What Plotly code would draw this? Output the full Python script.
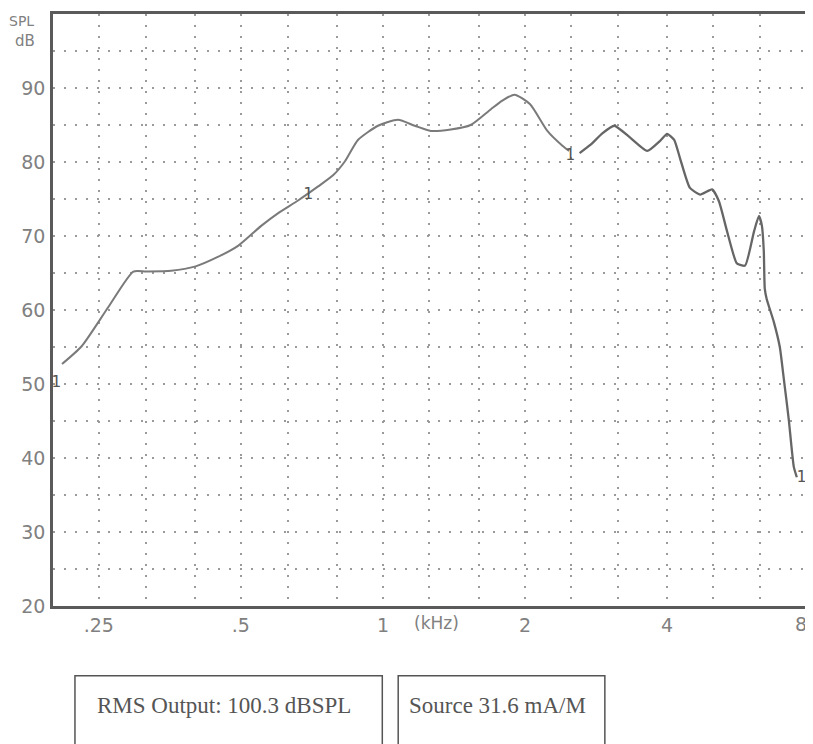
import math
import plotly.graph_objects as go

# Frequency response curve (kHz, dB SPL)
freq_a = [0.209, 0.230, 0.262, 0.296, 0.315, 0.356, 0.401, 0.448, 0.494, 0.553,
          0.600, 0.661, 0.729, 0.784, 0.831, 0.886, 0.976, 1.076, 1.168, 1.263,
          1.392, 1.534, 1.691, 1.79, 1.90, 2.05, 2.23, 2.40, 2.48]
spl_a = [52.7, 55.1, 60.4, 65.2, 65.2, 65.3, 65.9, 67.2, 68.7, 71.4,
         73.1, 74.8, 76.7, 78.2, 80.1, 83.0, 84.9, 85.7, 84.9, 84.2,
         84.4, 85.0, 87.1, 88.3, 89.1, 87.8, 84.2, 82.2, 81.5]
freq_b = [2.61, 2.75, 2.92, 3.09, 3.34, 3.63, 3.87, 4.0, 4.14, 4.26,
          4.47, 4.70, 4.98, 5.15, 5.36, 5.62, 5.85, 6.11, 6.26, 6.35,
          6.41, 6.44, 6.50, 6.73, 6.93, 7.07, 7.24, 7.42, 7.53]
spl_b = [81.2, 82.3, 83.9, 84.9, 83.3, 81.5, 82.9, 83.8, 83.0, 80.5,
         76.5, 75.6, 76.3, 74.7, 70.6, 66.3, 66.0, 70.6, 72.7, 71.4,
         67.9, 62.9, 61.5, 58.4, 55.0, 50.6, 45.2, 38.8, 37.4]

# curve-number labels
label_f = [0.203, 0.694, 2.49, 7.70]
label_db = [50.2, 75.5, 80.8, 37.3]

x_tickvals = [0.25, 0.5, 1, 2, 4, 8]
x_ticktext = [".25", ".5", "1", "2", "4", "8"]
x_grid = [0.25, 0.315, 0.4, 0.5, 0.63, 0.8, 1, 1.25, 1.6, 2, 2.5, 3.15, 4, 5, 6.3]
y_tickvals = [20, 30, 40, 50, 60, 70, 80, 90]
y_grid = [25, 35, 45, 55, 65, 75, 85, 95]

info_texts = ["RMS Output: 100.3 dBSPL", "Source 31.6 mA/M"]

grid_col = "#9a9a9a"
grid_dash = "2px,9px"
tick_font = dict(family="DejaVu Sans", size=19, color="#808080")

fig = go.Figure()
fig.add_trace(go.Scatter(x=freq_a, y=spl_a, mode="lines", line_shape="spline",
                         line=dict(color="#7a7a7a", width=2, smoothing=0.6),
                         showlegend=False))
fig.add_trace(go.Scatter(x=freq_b, y=spl_b, mode="lines", line_shape="spline",
                         line=dict(color="#666666", width=2.3, smoothing=0.5),
                         showlegend=False))
fig.add_trace(go.Scatter(x=label_f, y=label_db, mode="text", text=["1"] * 4,
                         textfont=dict(family="DejaVu Sans Mono", size=16, color="#555"),
                         showlegend=False))

# the last tick label sits on the right edge; it is drawn as an annotation below
fig.update_xaxes(type="log", range=[math.log10(0.2), math.log10(8.03)],
                 tickvals=x_tickvals[:-1], ticktext=x_ticktext[:-1],
                 showgrid=True, gridcolor=grid_col, griddash=grid_dash, gridwidth=1.5,
                 minor=dict(tickvals=x_grid, showgrid=True, gridcolor=grid_col,
                            griddash=grid_dash, gridwidth=1.5),
                 showline=True, linecolor="#5a5a5a", linewidth=2.5, mirror=True,
                 ticks="", tickfont=tick_font, automargin=False, zeroline=False)
fig.update_yaxes(range=[20, 100], tickvals=y_tickvals,
                 showgrid=True, gridcolor=grid_col, griddash=grid_dash, gridwidth=1.5,
                 minor=dict(tickvals=y_grid, showgrid=True, gridcolor=grid_col,
                            griddash=grid_dash, gridwidth=1.5),
                 showline=True, linecolor="#5a5a5a", linewidth=2.5, mirror=True,
                 ticks="", ticklabelstandoff=1, tickfont=tick_font,
                 automargin=False, zeroline=False)

annots = [
    dict(x=math.log10(x_tickvals[-1]), y=-0.009, xref="x", yref="paper",
         text=x_ticktext[-1], showarrow=False, xanchor="right", yanchor="top",
         font=tick_font),
    dict(x=math.log10(1.3), y=-0.009, xref="x", yref="paper", text="(kHz)", showarrow=False,
         yanchor="top", font=dict(family="DejaVu Sans", size=17, color="#808080")),
    dict(x=-0.022, y=0.988, xref="paper", yref="paper", text="SPL", showarrow=False,
         xanchor="right", yanchor="middle", font=dict(family="DejaVu Sans", size=14, color="#808080")),
    dict(x=-0.021, y=0.954, xref="paper", yref="paper", text="dB", showarrow=False,
         xanchor="right", yanchor="middle", font=dict(family="DejaVu Sans", size=15, color="#808080")),
]
# info boxes below plot
box_x = [(0.029, 0.435), (0.456, 0.729)]
text_pad = [0.026, 0.012]
for (x0, x1), pad, t in zip(box_x, text_pad, info_texts):
    fig.add_shape(type="rect", xref="paper", yref="paper", x0=x0, x1=x1,
                  y0=-0.26, y1=-0.118, line=dict(color="#555", width=1.5))
    annots.append(dict(x=x0 + pad, y=-0.143, xref="paper", yref="paper", text=t,
                       showarrow=False, xanchor="left", yanchor="top",
                       font=dict(family="Liberation Serif", size=23, color="#555")))

# page body has an 8px margin, so the figure is 8px smaller on each axis
fig.update_layout(width=805, height=736, margin=dict(l=45, r=3, t=6, b=138),
                  plot_bgcolor="white", paper_bgcolor="white", annotations=annots)
fig.write_html("out.html")
